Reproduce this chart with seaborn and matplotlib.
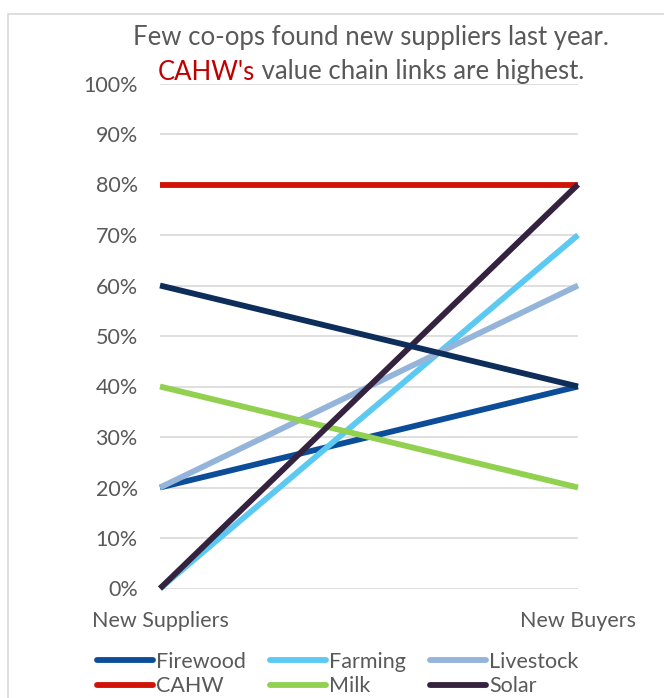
import pandas as pd
import matplotlib
matplotlib.use("Agg")
import matplotlib.pyplot as plt
import seaborn as sns
from matplotlib.lines import Line2D
from matplotlib.patches import Rectangle
from matplotlib.ticker import PercentFormatter

stages = ["New Suppliers", "New Buyers"]
series = ["Firewood", "Farming", "Livestock", "CAHW", "Milk", "Solar", "Other"]
firewood = [0.20, 0.40]
farming = [0.00, 0.70]
livestock = [0.20, 0.60]
cahw = [0.80, 0.80]
milk = [0.40, 0.20]
solar = [0.00, 0.80]
other = [0.60, 0.40]
colors = ["#0B4D98", "#5BC9F1", "#95B4DA", "#D01306", "#92D050", "#35223F", "#0D2D5A"]
legend_series = series[:6]

GREY = "#595959"
GRID = "#D9D9D9"
FS = 15.5

values = [firewood, farming, livestock, cahw, milk, solar, other]
rows = []
for name, vals in zip(series, values):
    for stage, v in zip(stages, vals):
        rows.append({"series": name, "stage": stage, "value": v})
df = pd.DataFrame(rows)

sns.set_style("white")
plt.rcParams["font.family"] = ["Lato", "DejaVu Sans"]

fig = plt.figure(figsize=(6.64, 6.98), dpi=100)
ax = fig.add_axes([160 / 664, 1 - 588.5 / 698, 418 / 664, 505 / 698])

palette = dict(zip(series, colors))
sns.lineplot(data=df, x="stage", y="value", hue="series", hue_order=series,
             palette=palette, linewidth=4.2, legend=False, ax=ax, sort=False)
for ln in ax.get_lines():
    ln.set_solid_capstyle("butt")
    ln.set_clip_on(False)
    ln.set_zorder(3)

ax.set_xlim(0, 1)
ax.set_ylim(0, 1)
ax.set_yticks([i / 10 for i in range(11)])
ax.yaxis.set_major_formatter(PercentFormatter(1.0, decimals=0))
ax.grid(axis="y", color=GRID, linewidth=1.2)
ax.set_axisbelow(True)
for s in ax.spines.values():
    s.set_visible(False)
ax.tick_params(axis="y", length=0, pad=16, labelsize=FS, labelcolor=GREY)
ax.tick_params(axis="x", length=0, pad=16, labelsize=FS, labelcolor=GREY)
ax.set_xlabel("")
ax.set_ylabel("")

# chart border
fig.patches.append(Rectangle((8 / 664, -0.1), 1.0, 1.1 - 14 / 698, transform=fig.transFigure,
                             fill=False, edgecolor=GRID, linewidth=1.2))

# title, second line partly red
cx = 371 / 664
fig.text(cx, 1 - 37 / 698, "Few co-ops found new suppliers last year.", ha="center", va="center",
         fontsize=18.5, color=GREY)
t_red = fig.text(0, 1 - 72 / 698, "CAHW's", ha="left", va="center", fontsize=18.5, color="#C00000")
t_rest = fig.text(0, 1 - 72 / 698, " value chain links are highest.", ha="left", va="center",
                  fontsize=18.5, color=GREY)
fig.canvas.draw()
r = fig.canvas.get_renderer()
w_red = t_red.get_window_extent(r).width
w_rest = t_rest.get_window_extent(r).width
x0 = cx * 664 - (w_red + w_rest) / 2
t_red.set_x(x0 / 664)
t_rest.set_x((x0 + w_red) / 664)

# legend, filled row by row
order = [0, 3, 1, 4, 2, 5]
handles = [Line2D([], [], color=palette[legend_series[i]], linewidth=4.2, solid_capstyle="round")
           for i in order]
labels = [legend_series[i] for i in order]
fig.legend(handles, labels, loc="upper left", bbox_to_anchor=(97 / 664, 1 - 652 / 698),
           ncol=3, frameon=False, fontsize=FS, labelcolor=GREY, handlelength=2.6,
           handletextpad=0.12, columnspacing=1.15, labelspacing=0.2, borderpad=0, borderaxespad=0)

fig.savefig("out.png", dpi=100)
